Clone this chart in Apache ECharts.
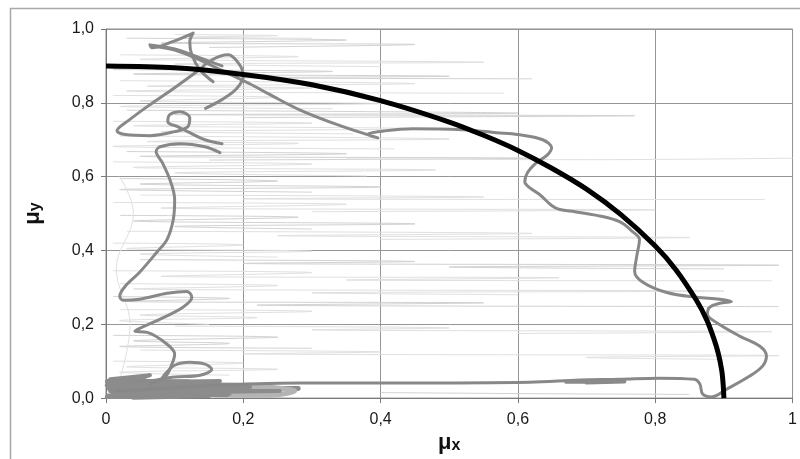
<!DOCTYPE html>
<html>
<head>
<meta charset="utf-8">
<script src="https://cdn.jsdelivr.net/npm/echarts@6/dist/echarts.min.js"></script>
<style>
  html, body { margin: 0; padding: 0; background: #fff; }
  #chart { width: 800px; height: 459px; }
</style>
</head>
<body>
<div id="chart"></div>
<script>
const xTickLabels = ["0", "0,2", "0,4", "0,6", "0,8", "1"];
const yTickLabels = ["0,0", "0,2", "0,4", "0,6", "0,8", "1,0"];

// limit curve (black)
const limitCurve = [
  [0, 0.9], [0.1, 0.895], [0.2, 0.877], [0.3, 0.849], [0.4, 0.806], [0.5, 0.748],
  [0.55, 0.712], [0.6, 0.671], [0.65, 0.622], [0.7, 0.566], [0.75, 0.497],
  [0.8, 0.412], [0.83, 0.348], [0.86, 0.265], [0.875, 0.212], [0.885, 0.163],
  [0.892, 0.12], [0.897, 0.073], [0.899, 0.035], [0.9, 0]
];

// measured path (dark gray)
const climbPath = [
  [0.064, 0.038], [0.086, 0.057], [0.096, 0.092], [0.1, 0.119], [0.089, 0.146],
  [0.06, 0.178], [0.042, 0.181], [0.049, 0.189], [0.079, 0.214], [0.112, 0.246],
  [0.125, 0.273], [0.118, 0.289], [0.089, 0.284], [0.049, 0.268], [0.025, 0.265],
  [0.02, 0.276], [0.028, 0.303], [0.049, 0.341], [0.074, 0.395], [0.089, 0.43],
  [0.098, 0.484], [0.1, 0.538], [0.093, 0.592], [0.082, 0.638], [0.073, 0.668],
  [0.079, 0.681], [0.108, 0.689], [0.144, 0.681], [0.166, 0.665]
];
const knotPath = [
  [0.169, 0.689], [0.144, 0.7], [0.122, 0.719], [0.105, 0.735], [0.09, 0.749],
  [0.093, 0.768], [0.108, 0.776], [0.122, 0.759], [0.119, 0.735], [0.1, 0.722],
  [0.064, 0.711], [0.028, 0.714], [0.016, 0.724], [0.032, 0.751], [0.064, 0.795],
  [0.1, 0.841], [0.132, 0.884], [0.154, 0.916], [0.178, 0.93], [0.194, 0.905],
  [0.2, 0.873], [0.19, 0.838], [0.17, 0.81], [0.145, 0.785]
];
const tipPath = [
  [0.169, 0.9], [0.137, 0.922], [0.1, 0.946], [0.064, 0.957], [0.067, 0.949],
  [0.096, 0.965], [0.127, 0.989], [0.122, 0.965], [0.125, 0.93], [0.137, 0.889],
  [0.156, 0.857]
];
const sweepPath = [
  [0.067, 0.954], [0.1, 0.943], [0.137, 0.916], [0.173, 0.884], [0.21, 0.851],
  [0.239, 0.822], [0.282, 0.781], [0.341, 0.738], [0.396, 0.705], [0.381, 0.714],
  [0.406, 0.724], [0.447, 0.73], [0.52, 0.727], [0.569, 0.719], [0.6, 0.714],
  [0.636, 0.7], [0.649, 0.678], [0.643, 0.659], [0.627, 0.638], [0.614, 0.611],
  [0.61, 0.586], [0.617, 0.57], [0.632, 0.551], [0.649, 0.522], [0.661, 0.511],
  [0.683, 0.505], [0.715, 0.495], [0.748, 0.478], [0.767, 0.451], [0.777, 0.43],
  [0.773, 0.384], [0.77, 0.343], [0.782, 0.314], [0.817, 0.286], [0.86, 0.273],
  [0.894, 0.268], [0.911, 0.262], [0.894, 0.257], [0.879, 0.246], [0.876, 0.227],
  [0.889, 0.205], [0.923, 0.168], [0.952, 0.141], [0.962, 0.114], [0.956, 0.086],
  [0.937, 0.059], [0.904, 0.024], [0.882, 0.003], [0.869, 0.011], [0.865, 0.038],
  [0.857, 0.051], [0.806, 0.054], [0.748, 0.051], [0.69, 0.049], [0.617, 0.043],
  [0.428, 0.041], [0.282, 0.041], [0.21, 0.038], [0.137, 0.032], [0.064, 0.024],
  [0.013, 0.019]
];
const dashPath = [[0.67, 0.044], [0.755, 0.045], [0.7, 0.042]];
const loopPath = [
  [0.04, 0.045], [0.079, 0.051], [0.086, 0.065], [0.1, 0.089], [0.122, 0.097],
  [0.144, 0.092], [0.154, 0.078], [0.137, 0.062], [0.1, 0.057], [0.079, 0.051]
];
const clusterPath = [
  [0.006, 0.051], [0.064, 0.062], [0.035, 0.043], [0.166, 0.046], [0.093, 0.038],
  [0.001, 0.035], [0.137, 0.041], [0.02, 0.027], [0.21, 0.03], [0.006, 0.019],
  [0.253, 0.019], [0.013, 0.011], [0.18, 0.008], [0.001, 0.003], [0.108, 0.003]
];
const clusterPath2 = [
  [0.002, 0.045], [0.12, 0.044], [0.01, 0.037], [0.24, 0.034], [0.005, 0.025],
  [0.28, 0.026], [0.01, 0.014], [0.22, 0.014], [0.003, 0.006], [0.15, 0.007],
  [0.04, 0.002]
];
const blurPath = [
  [0.159, 0.03], [0.224, 0.03], [0.275, 0.019], [0.239, 0.008], [0.166, 0.008],
  [0.137, 0.019], [0.159, 0.03]
];

// faint background traces
const noiseLines = [
  [[0.03, 0.975], [0.35, 0.97], [0.08, 0.962], [0.45, 0.958], [0.15, 0.95]],
  [[0.1, 0.985], [0.25, 0.982], [0.12, 0.978], [0.3, 0.975]],
  [[0.02, 0.93], [0.28, 0.925], [0.05, 0.918], [0.55, 0.91], [0.1, 0.905], [0.4, 0.898]],
  [[0.01, 0.89], [0.33, 0.885], [0.04, 0.878], [0.5, 0.872], [0.2, 0.868], [0.62, 0.865]],
  [[0.02, 0.86], [0.45, 0.852], [0.06, 0.845], [0.3, 0.84], [0.03, 0.832], [0.58, 0.826]],
  [[0.01, 0.82], [0.25, 0.815], [0.05, 0.805], [0.4, 0.798], [0.02, 0.79], [0.33, 0.784]],
  [[0.03, 0.78], [0.6, 0.772], [0.1, 0.768], [0.77, 0.765], [0.2, 0.76]],
  [[0.01, 0.75], [0.3, 0.745], [0.04, 0.738], [0.45, 0.73], [0.08, 0.722], [0.36, 0.716]],
  [[0.02, 0.71], [0.5, 0.702], [0.06, 0.695], [0.28, 0.69], [0.01, 0.682], [0.42, 0.675]],
  [[0.03, 0.668], [0.35, 0.662], [0.05, 0.655], [0.62, 0.65], [0.15, 0.645]],
  [[0.35, 0.648], [0.7, 0.646], [1.0, 0.65]],
  [[0.01, 0.64], [0.3, 0.634], [0.04, 0.625], [0.48, 0.618], [0.1, 0.61], [0.38, 0.602]],
  [[0.02, 0.595], [0.25, 0.588], [0.05, 0.58], [0.4, 0.572], [0.02, 0.565], [0.3, 0.558]],
  [[0.05, 0.55], [0.55, 0.545], [0.2, 0.54], [0.96, 0.538]],
  [[0.01, 0.53], [0.35, 0.525], [0.08, 0.515], [0.8, 0.51], [0.3, 0.505]],
  [[0.02, 0.495], [0.28, 0.49], [0.04, 0.48], [0.45, 0.472], [0.1, 0.465], [0.3, 0.458]],
  [[0.03, 0.452], [0.62, 0.446], [0.25, 0.44], [0.85, 0.435], [0.4, 0.43]],
  [[0.01, 0.42], [0.2, 0.415], [0.03, 0.405], [0.3, 0.398], [0.05, 0.39], [0.25, 0.382]],
  [[0.05, 0.375], [0.45, 0.37], [0.2, 0.365], [0.98, 0.36], [0.5, 0.355], [0.9, 0.35]],
  [[0.01, 0.345], [0.3, 0.34], [0.08, 0.33], [0.66, 0.326], [0.35, 0.32], [0.97, 0.318]],
  [[0.02, 0.31], [0.25, 0.305], [0.04, 0.296], [0.9, 0.29], [0.3, 0.285], [0.6, 0.28]],
  [[0.01, 0.275], [0.18, 0.27], [0.03, 0.262], [0.55, 0.258], [0.22, 0.252], [0.98, 0.248]],
  [[0.02, 0.24], [0.3, 0.235], [0.05, 0.225], [0.22, 0.218], [0.02, 0.21], [0.15, 0.2]],
  [[0.1, 0.195], [0.5, 0.19], [0.3, 0.185], [0.97, 0.18], [0.6, 0.175]],
  [[0.01, 0.17], [0.25, 0.165], [0.04, 0.155], [0.18, 0.148], [0.02, 0.14], [0.3, 0.135]],
  [[0.05, 0.13], [0.4, 0.125], [0.2, 0.12], [0.98, 0.115], [0.7, 0.11], [0.9, 0.105]],
  [[0.01, 0.1], [0.2, 0.095], [0.03, 0.085], [0.25, 0.078], [0.02, 0.07], [0.18, 0.062]],
  [[0.4, 0.015], [0.62, 0.012], [0.85, 0.01]],
  [[0.02, 0.05], [0.035, 0.2], [0.015, 0.35], [0.04, 0.5], [0.02, 0.6]]
];

const font = 'Arial, "Liberation Sans", sans-serif';

let chart = echarts.init(document.getElementById("chart"));

let series = [];
noiseLines.forEach((pts, i) => {
  series.push({
    type: "line",
    data: pts,
    symbol: "none",
    smooth: 0.4,
    silent: true,
    lineStyle: { color: i % 3 === 0 ? "#d2d2d2" : "#e0e0e0", width: 1 }
  });
});

const gray = (data, color, width) => ({
  type: "line",
  data: data,
  symbol: "none",
  smooth: 0.35,
  lineStyle: { color: color, width: width, cap: "round", join: "round" }
});

series.push(gray(clusterPath2, "#8c8c8c", 5));
series.push(gray(blurPath, "#b4b4b4", 5));
series.push(gray(clusterPath, "#8c8c8c", 4));
series.push(gray(loopPath, "#8a8a8a", 3));
series.push(gray(climbPath, "#888888", 3));
series.push(gray(knotPath, "#888888", 3));
series.push(gray(tipPath, "#888888", 3));
series.push(gray(sweepPath, "#888888", 3));
series.push(gray(dashPath, "#8a8a8a", 4));
series.push({
  type: "line",
  data: limitCurve,
  symbol: "none",
  smooth: 0.3,
  lineStyle: { color: "#000", width: 5 }
});

const nameRich = {
  m: { fontSize: 22, fontWeight: "bold", color: "#111", fontFamily: font, padding: [0, 0, 6, 0] },
  s: { fontSize: 16, fontWeight: "bold", color: "#111", fontFamily: font }
};

let option = {
  animation: false,
  backgroundColor: "#fff",
  graphic: [
    {
      type: "rect",
      shape: { x: 10.5, y: 8.5, width: 820, height: 480 },
      style: { fill: "none", stroke: "#a8a8a8", lineWidth: 1.5 }
    }
  ],
  grid: {
    left: 106,
    top: 29,
    width: 687,
    height: 370,
    show: true,
    borderColor: "#8a8a8a",
    borderWidth: 1
  },
  xAxis: {
    type: "value",
    min: 0,
    max: 1,
    interval: 0.2,
    name: "{m|μ}{s|x}",
    nameLocation: "middle",
    nameGap: 33,
    nameTextStyle: { rich: nameRich },
    axisLine: { show: true, lineStyle: { color: "#7a7a7a" } },
    axisTick: { show: true, length: 5, lineStyle: { color: "#7a7a7a" } },
    axisLabel: {
      margin: 13,
      fontSize: 16,
      color: "#1a1a1a",
      fontFamily: font,
      formatter: v => xTickLabels[Math.round(v / 0.2)]
    },
    splitLine: { show: true, lineStyle: { color: "#959595", width: 1 } }
  },
  yAxis: {
    type: "value",
    min: 0,
    max: 1,
    interval: 0.2,
    name: "{m|μ}{s|y}",
    nameLocation: "middle",
    nameGap: 56,
    nameTextStyle: { rich: nameRich },
    axisLine: { show: true, lineStyle: { color: "#7a7a7a" } },
    axisTick: { show: true, length: 5, lineStyle: { color: "#7a7a7a" } },
    axisLabel: {
      margin: 12,
      fontSize: 16,
      color: "#1a1a1a",
      fontFamily: font,
      formatter: v => yTickLabels[Math.round(v / 0.2)]
    },
    splitLine: { show: true, lineStyle: { color: "#959595", width: 1 } }
  },
  series: series
};

chart.setOption(option);
</script>
</body>
</html>
